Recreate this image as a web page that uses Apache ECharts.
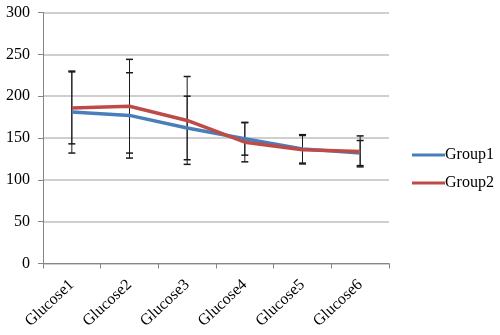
<!DOCTYPE html>
<html><head><meta charset="utf-8">
<script src="https://cdn.jsdelivr.net/npm/echarts@6/dist/echarts.min.js"></script>
<style>html,body{margin:0;padding:0;background:#fff}#c{width:500px;height:335px}</style>
</head><body><div id="c"></div>
<script>
const categories = ['Glucose1','Glucose2','Glucose3','Glucose4','Glucose5','Glucose6'];
const yTicks = [0, 50, 100, 150, 200, 250, 300];
const group1 = [181, 177, 162, 149, 137, 132];
const group2 = [186, 188, 171, 145, 136, 134];
const group1Err = [49, 51, 38, 19.5, 17, 15];
const group2Err = [43, 56, 52.5, 23.5, 17, 18.5];

const font = '"Liberation Serif", "Times New Roman", serif';
function errData(vals, errs){ return vals.map((v,i)=>[i, v-errs[i], v+errs[i]]); }
function errSeries(name, vals, errs){
  return {
    type:'custom', name: name+'_err', z: 1, silent:true,
    data: errData(vals, errs),
    encode:{x:0, y:[1,2]},
    renderItem: function(params, api){
      const x = api.value(0);
      const lo = api.coord([x, api.value(1)]);
      const hi = api.coord([x, api.value(2)]);
      const w = 3.5;
      const st = {stroke:'#1a1a1a', lineWidth:1};
      return {type:'group', children:[
        {type:'line', shape:{x1:lo[0], y1:lo[1], x2:hi[0], y2:hi[1]}, style:st},
        {type:'line', shape:{x1:lo[0]-w, y1:lo[1], x2:lo[0]+w, y2:lo[1]}, style:{stroke:'#1a1a1a', lineWidth:1.5}},
        {type:'line', shape:{x1:hi[0]-w, y1:hi[1], x2:hi[0]+w, y2:hi[1]}, style:{stroke:'#1a1a1a', lineWidth:1.5}}
      ]};
    }
  };
}
const chart = echarts.init(document.getElementById('c'), null, {renderer:'canvas'});
chart.setOption({
  animation:false,
  backgroundColor:'#fff',
  grid:{left:43, right:111, top:12.5, bottom:71.5, containLabel:false},
  legend:{
    orient:'vertical', left:407, top:142, itemWidth:33, itemHeight:3, itemGap:12,
    icon:'rect',
    textStyle:{fontFamily:font, fontSize:16, color:'#000', lineHeight:16, padding:[0,0,0,-5]},
    data:['Group1','Group2']
  },
  xAxis:{
    type:'category', data:categories, boundaryGap:true,
    axisLine:{lineStyle:{color:'#868686', width:1}},
    axisTick:{show:true, length:5, lineStyle:{color:'#868686'}},
    axisLabel:{rotate:43, margin:19, fontFamily:font, fontSize:16, color:'#000', interval:0},
    splitLine:{show:false}
  },
  yAxis:{
    type:'value', min:yTicks[0], max:yTicks[yTicks.length-1], interval:50,
    axisLine:{show:true, lineStyle:{color:'#868686', width:1}},
    axisTick:{show:true, length:5, lineStyle:{color:'#868686'}},
    axisLabel:{margin:13, fontFamily:font, fontSize:16, color:'#000'},
    splitLine:{show:true, lineStyle:{color:'#bfbfbf', width:1.5}}
  },
  series:[
    errSeries('Group1', group1, group1Err),
    errSeries('Group2', group2, group2Err),
    {name:'Group1', type:'line', data:group1, symbol:'none', z:3,
     lineStyle:{color:'#4a7ebb', width:3.5}, itemStyle:{color:'#4a7ebb'}},
    {name:'Group2', type:'line', data:group2, symbol:'none', z:4,
     lineStyle:{color:'#be4b48', width:3.5}, itemStyle:{color:'#be4b48'}}
  ]
});
</script></body></html>
